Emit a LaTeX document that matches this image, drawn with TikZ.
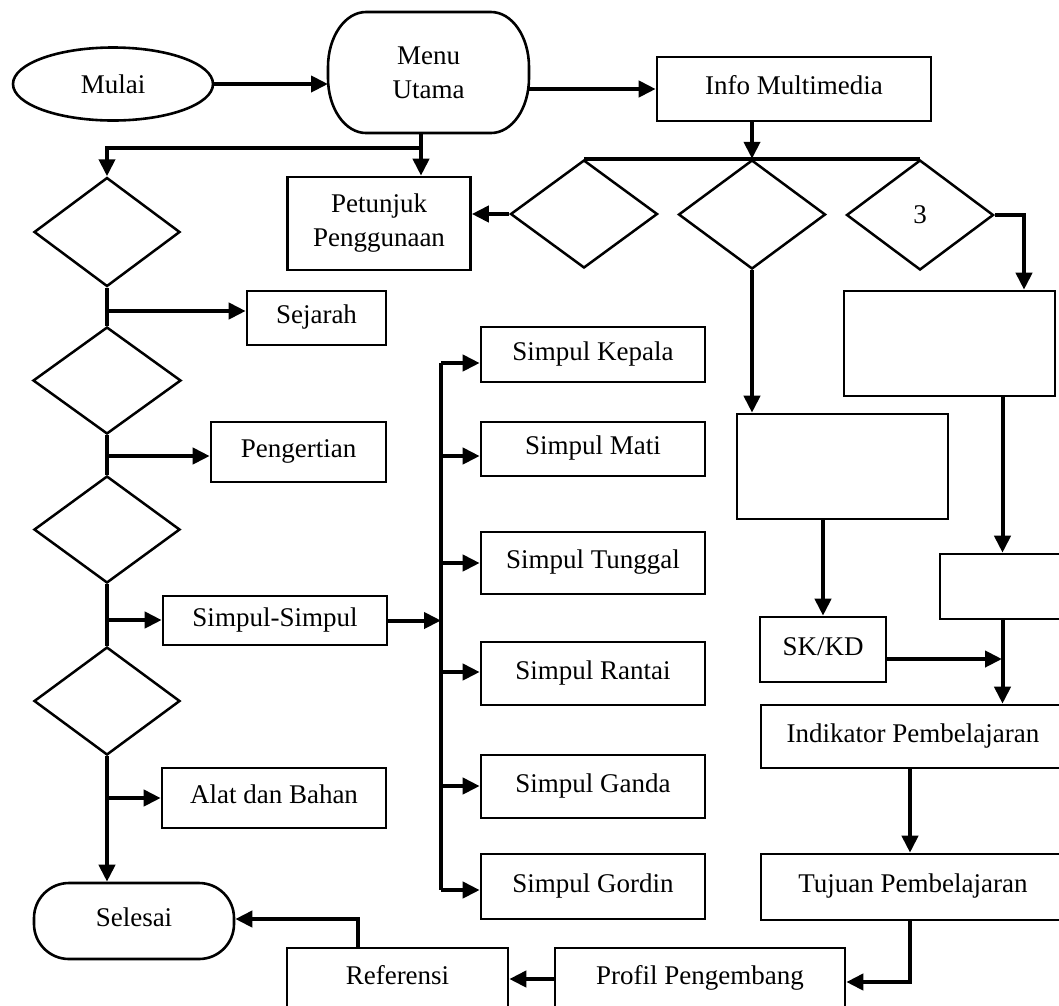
\documentclass[tikz,border=0pt]{standalone}
\usepackage{fontspec}
\setmainfont{Liberation Serif}
\usetikzlibrary{arrows.meta,shapes.geometric,calc}

\begin{document}
\begin{tikzpicture}[x=1pt,y=-1pt,
  font=\fontsize{27}{34}\selectfont,
  box/.style 2 args={draw, rectangle, line width=2.6pt, minimum width=#1 pt, minimum height=#2 pt, inner sep=0pt, text height=17pt, text depth=6pt},
  twoline/.style 2 args={draw, rectangle, line width=2.6pt, minimum width=#1 pt, minimum height=#2 pt, inner sep=0pt, align=center},
  dec/.style 2 args={draw, diamond, line width=2.5pt, minimum width=#1 pt, minimum height=#2 pt, inner sep=0pt},
  conn/.style={line width=4pt},
  arr/.style={conn, -{Triangle[length=17pt,width=16pt]}}
]
\useasboundingbox (0,0) rectangle (1059,1005);
\clip (0,0) rectangle (1059,1005);

% start, main menu, info
\node[draw, ellipse, line width=2.6pt, minimum width=200pt, minimum height=73pt, inner sep=0pt] (mulai) at (113,84) {Mulai};
\node[minimum width=201pt, minimum height=121pt, inner sep=0pt, outer sep=0pt, align=center] (menu) at (428.5,72.5) {Menu\\Utama};
% main menu outline with elliptic corners
\draw[line width=2.6pt]
  ([xshift=38pt]menu.north west) -- ([xshift=-38pt]menu.north east)
  arc[start angle=90,end angle=0,x radius=38pt,y radius=55pt]
  -- ([yshift=55pt]menu.south east)
  arc[start angle=0,end angle=-90,x radius=38pt,y radius=55pt]
  -- ([xshift=38pt]menu.south west)
  arc[start angle=-90,end angle=-180,x radius=38pt,y radius=55pt]
  -- ([yshift=-55pt]menu.north west)
  arc[start angle=180,end angle=90,x radius=38pt,y radius=55pt] -- cycle;
\node[box={274}{64}] (info) at (794,89) {Info Multimedia};
\node[twoline={183}{93}] (pet) at (379,223.5) {Petunjuk\\Penggunaan};

% left column of decisions
\node[dec={146}{109}] (d1) at (107,232) {};
\node[dec={148}{107}] (d2) at (107,380.5) {};
\node[dec={146}{107}] (d3) at (107,529.5) {};
\node[dec={146}{108}] (d4) at (107,701) {};

\node[box={139}{54}] (sej) at (316.5,318) {Sejarah};
\node[box={175}{60}] (peng) at (298.5,452) {Pengertian};
\node[box={224}{49}] (ss) at (275,620.5) {Simpul-Simpul};
\node[box={224}{60}] (alat) at (274,798) {Alat dan Bahan};
\node[box={200}{76}, rounded corners=35pt] (selesai) at (134,921) {Selesai};

% knot types
\node[box={224}{55}] (kep) at (593,354.5) {Simpul Kepala};
\node[box={224}{54}] (mati) at (593,449) {Simpul Mati};
\node[box={224}{62}] (tung) at (593,563) {Simpul Tunggal};
\node[box={224}{63}] (rant) at (593,673.5) {Simpul Rantai};
\node[box={224}{63}] (ganda) at (593,786.5) {Simpul Ganda};
\node[box={224}{65}] (gord) at (593,886.5) {Simpul Gordin};

% right part
\node[dec={147}{108}] (dA) at (584,214) {};
\node[dec={147}{109}] (dB) at (752,214.5) {};
\node[dec={147}{110}] (dC) at (920,215) {3};
\node[box={211}{105}] (rbox) at (949.5,343.5) {};
\node[box={211}{105}] (box2) at (842.5,466.5) {};
\node[box={125}{65}] (box3) at (1002.5,586.5) {};
\node[box={126}{65}] (sk) at (823,649.5) {SK/KD};
\node[box={304}{63}] (ind) at (913,736.5) {Indikator Pembelajaran};
\node[box={304}{66}] (tuj) at (913,887) {Tujuan Pembelajaran};
\node[box={290}{62}] (prof) at (700,979) {Profil Pengembang};
\node[box={221}{62}] (ref) at (397.5,979) {Referensi};

% connectors: top
\draw[arr] (mulai.east) -- (mulai.east -| menu.west);
\draw[arr] (menu.east |- info.west) -- (info.west);
\coordinate (j1) at (421,148);
\draw[arr] (j1 |- menu.south) -- (j1 |- pet.north);
\draw[arr] (j1) -| (d1.north);

% left column
\draw[conn] (d1.south) -- (d2.north);
\draw[conn] (d2.south) -- (d3.north);
\draw[conn] (d3.south) -- (d4.north);
\draw[arr] (d4.south) -- (d4.south |- selesai.north);
\coordinate (b1) at (107,311);
\coordinate (b2) at (107,456);
\coordinate (b3) at (107,620);
\coordinate (b4) at (107,798);
\draw[arr] (b1) -- (b1 -| sej.west);
\draw[arr] (b2) -- (b2 -| peng.west);
\draw[arr] (b3) -- (b3 -| ss.west);
\draw[arr] (b4) -- (b4 -| alat.west);

% knot bus
\coordinate (bt) at (441,363);
\coordinate (bb) at (441,890);
\draw[conn] (bt) -- (bb);
\draw[arr] (ss.east) -- (ss.east -| bt);
\draw[arr] (bt) -- (bt -| kep.west);
\draw[arr] (441,456) coordinate (k2) -- (k2 -| mati.west);
\draw[arr] (441,563) coordinate (k3) -- (k3 -| tung.west);
\draw[arr] (441,672) coordinate (k4) -- (k4 -| rant.west);
\draw[arr] (441,786) coordinate (k5) -- (k5 -| ganda.west);
\draw[arr] (bb) -- (bb -| gord.west);

% right part connectors
\draw[arr] (info.south -| dB.north) -- (dB.north);
\draw[conn] (dA.north) -- (dC.north);
\draw[arr] (dA.west) -- (dA.west -| pet.east);
\coordinate (c3) at (1024,215);
\draw[arr] (dC.east) -- (c3) -- (c3 |- rbox.north);
\draw[arr] (dB.south) -- (dB.south |- box2.north);
\draw[arr] (sk |- box2.south) -- (sk.north);
\draw[arr] (box3 |- rbox.south) -- (box3.north);
\draw[arr] (box3.south) -- (box3.south |- ind.north);
\coordinate (skj) at (1002,659);
\draw[arr] (sk.east |- skj) -- (skj);
\draw[arr] (ind.south -| 910,0) -- (tuj.north -| 910,0);
\coordinate (tp) at (910,982);
\draw[arr] (tuj.south -| tp) -- (tp) -- (tp -| prof.east);
\draw[arr] (prof.west) -- (ref.east);
\coordinate (rs) at (358,919);
\draw[arr] (ref.north -| rs) -- (rs) -- (rs -| selesai.east);
\end{tikzpicture}
\end{document}
